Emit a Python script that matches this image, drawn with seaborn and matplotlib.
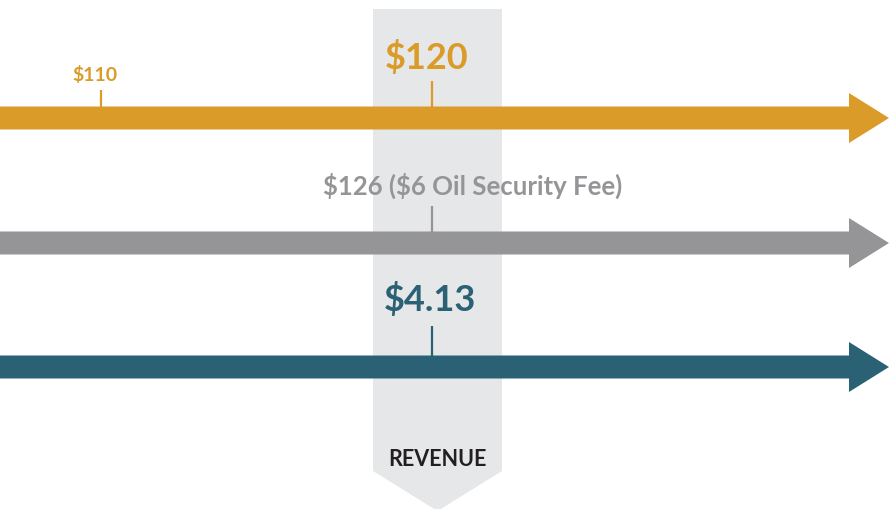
import matplotlib
matplotlib.use("Agg")
import matplotlib.pyplot as plt
from matplotlib.patches import Polygon, FancyArrow
import seaborn as sns

sns.set_theme(style="white")
plt.rcParams['font.family'] = ['Lato', 'DejaVu Sans']

# rows of the diagram (canvas units, y grows downward)
row_names = ["price", "fee", "gas"]
row_y = [119, 244, 368]
row_colors = ["#DA9B28", "#959598", "#2B6174"]

# tick marks on the arrows: row index, x position, top of tick
tick_row = [0, 0, 1, 2]
tick_x = [101, 432, 432, 432]
tick_top = [91, 82, 207, 327]

# labels
label_text = ["$110", "$120", "$126 ($6 Oil Security Fee)", "$4.13"]
label_x = [95, 427, 473, 430]
label_y = [75, 57, 186, 300]
label_size = [14, 26, 18.5, 26]

band_left, band_right = 373, 502
band_top, band_notch, band_tip = 10, 472, 512
band_label = "REVENUE"

W, H = 889, 510
fig = plt.figure(figsize=(W / 100, H / 100), dpi=100)
ax = fig.add_axes([0, 0, 1, 1])
ax.set_xlim(0, W)
ax.set_ylim(H, 0)
ax.axis('off')

# revenue band with downward chevron
mid = (band_left + band_right) / 2
band = Polygon([(band_left, band_top), (band_right, band_top),
                (band_right, band_notch), (mid, band_tip),
                (band_left, band_notch)],
               closed=True, facecolor="#E6E7E9", edgecolor="none", zorder=1)
ax.add_patch(band)
ax.text(mid, 460, band_label, ha='center', va='center', fontsize=15.5,
        fontweight='bold', color="#231F20", zorder=5)

# arrows
bar_h = 23
head_h = 50
head_len = 40
for y, c in zip(row_y, row_colors):
    arr = FancyArrow(-5, y, W + 5, 0, width=bar_h,
                     head_width=head_h, head_length=head_len,
                     length_includes_head=True, color=c, lw=0, zorder=2)
    ax.add_patch(arr)

# ticks
for r, x, t in zip(tick_row, tick_x, tick_top):
    ax.plot([x, x], [t, row_y[r] - bar_h / 2], color=row_colors[r],
            lw=1.6, zorder=3, solid_capstyle='butt')

# labels
label_colors = [row_colors[0], row_colors[0], row_colors[1], row_colors[2]]
for s, x, y, fs, c in zip(label_text, label_x, label_y, label_size, label_colors):
    ax.text(x, y, s, ha='center', va='center', fontsize=fs,
            fontweight='bold', color=c, zorder=5, parse_math=False)

fig.savefig("out.png", dpi=100)
